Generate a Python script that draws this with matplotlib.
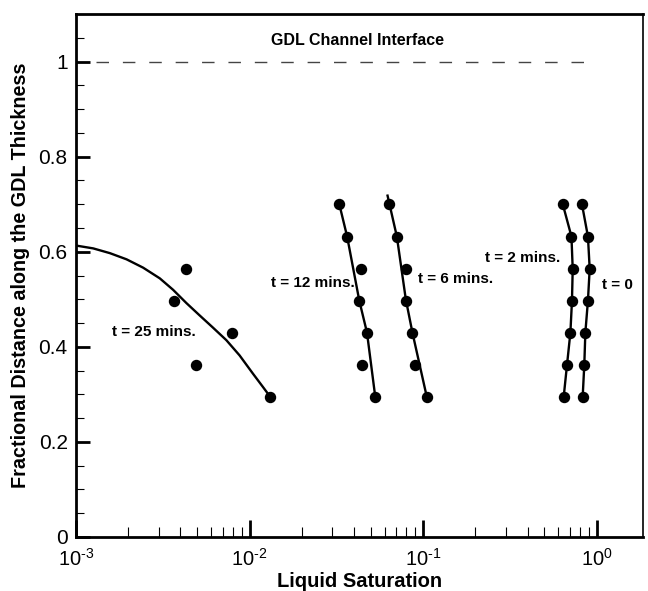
import math

import matplotlib
matplotlib.use("Agg")
import matplotlib.pyplot as plt
from matplotlib.ticker import LogLocator, MultipleLocator, FuncFormatter

plt.rcParams["font.family"] = ["Liberation Sans", "DejaVu Sans"]
plt.rcParams["mathtext.fontset"] = "custom"
plt.rcParams["mathtext.rm"] = "Liberation Sans"
plt.rcParams["mathtext.it"] = "Liberation Sans:italic"

# measured points (liquid saturation, fractional distance)
y_pts = [0.70, 0.632, 0.564, 0.497, 0.43, 0.362, 0.295]
y_pts25 = [0.563, 0.497, 0.43, 0.362, 0.295]

x_t0 = [0.823, 0.891, 0.912, 0.891, 0.861, 0.849, 0.831]
x_t2 = [0.638, 0.716, 0.728, 0.721, 0.706, 0.675, 0.646]
x_t6 = [0.0633, 0.0706, 0.0795, 0.0795, 0.0868, 0.0896, 0.105]
x_t12 = [0.0329, 0.0365, 0.0438, 0.0429, 0.0475, 0.0442, 0.053]
x_t25 = [0.00429, 0.00366, 0.00791, 0.0049, 0.01315]

# fitted curves
fit6_x = [0.0624, 0.0706, 0.0795, 0.0868, 0.105]
fit6_y = [0.718, 0.632, 0.50, 0.43, 0.295]
fit12_x = [0.0329, 0.0365, 0.0429, 0.0475, 0.053]
fit12_y = [0.70, 0.632, 0.497, 0.43, 0.295]
fit25_x = [0.001, 0.001257, 0.001568, 0.001956, 0.002436, 0.00304, 0.003624,
           0.004327, 0.00516, 0.00615, 0.00735, 0.00876, 0.01044, 0.01192,
           0.01315]
fit25_y = [0.613, 0.607, 0.597, 0.584, 0.5665, 0.544, 0.520, 0.492, 0.466,
           0.4405, 0.414, 0.382, 0.344, 0.316, 0.295]

interface_x = [0.0013, 1.0]
interface_y = [1.0, 1.0]


def log_label(v, pos):
    n = int(round(math.log10(v)))
    if n < 0:
        return r"$10^{\text{-}%d}$" % (-n)
    return r"$10^{%d}$" % n


fig = plt.figure(figsize=(6.48, 5.91), dpi=100)
ax = fig.add_axes([76 / 648, 54 / 591, 567 / 648, 523 / 591])

ax.plot(interface_x, interface_y, color="#444444", lw=1.0, linestyle=(0, (9, 10)))

line_kw = dict(color="black", lw=1.7, solid_joinstyle="round")
mark_kw = dict(color="black", marker="o", ms=7.2, linestyle="none")

ax.plot(x_t0, y_pts, **line_kw)
ax.plot(x_t2, y_pts, **line_kw)
ax.plot(fit6_x, fit6_y, **line_kw)
ax.plot(fit12_x, fit12_y, **line_kw)
ax.plot(fit25_x, fit25_y, **line_kw)

ax.plot(x_t0, y_pts, **mark_kw)
ax.plot(x_t2, y_pts, **mark_kw)
ax.plot(x_t6, y_pts, **mark_kw)
ax.plot(x_t12, y_pts, **mark_kw)
ax.plot(x_t25, y_pts25, **mark_kw)

lab_kw = dict(fontsize=11, fontweight="bold", va="center")
ax.text(0.00161, 0.431, "t = 25 mins.", ha="left", **lab_kw)
ax.text(0.01336, 0.534, "t = 12 mins.", ha="left", **lab_kw)
ax.text(0.0935, 0.542, "t = 6 mins.", ha="left", **lab_kw)
ax.text(0.621, 0.586, "t = 2 mins.", ha="right", **lab_kw)
ax.text(1.069, 0.531, "t = 0", ha="left", **lab_kw)
ax.text(0.042, 1.044, "GDL Channel Interface", ha="center",
        fontsize=11.5, fontweight="bold", va="center")

ax.set_xscale("log")
ax.set_xlim(1e-3, 1.85)
ax.set_ylim(0, 1.1)

ax.xaxis.set_major_locator(LogLocator(base=10, numticks=10))
ax.xaxis.set_minor_locator(LogLocator(base=10, subs=range(2, 10), numticks=10))
ax.xaxis.set_major_formatter(FuncFormatter(log_label))
ax.yaxis.set_major_locator(MultipleLocator(0.2))
ax.yaxis.set_minor_locator(MultipleLocator(0.05))
ax.yaxis.set_major_formatter(FuncFormatter(lambda v, p: f"{v:g}"))

ax.tick_params(which="both", direction="in", top=False, right=False)
ax.tick_params(axis="x", which="major", length=12, width=2, pad=7.5, labelsize=14.5)
ax.tick_params(axis="x", which="minor", length=7, width=0.8)
ax.tick_params(axis="y", which="major", length=10, width=2, pad=6, labelsize=15)
ax.tick_params(axis="y", which="minor", length=6, width=0.8)

for side in ["left", "bottom", "top"]:
    ax.spines[side].set_linewidth(2)
ax.spines["right"].set_linewidth(1.2)

ax.set_xlabel("Liquid Saturation", fontsize=14.5, fontweight="bold", labelpad=2)
ax.set_ylabel("Fractional Distance along the GDL Thickness", fontsize=14.2,
              fontweight="bold", labelpad=6)

fig.savefig("out.png", dpi=100)
